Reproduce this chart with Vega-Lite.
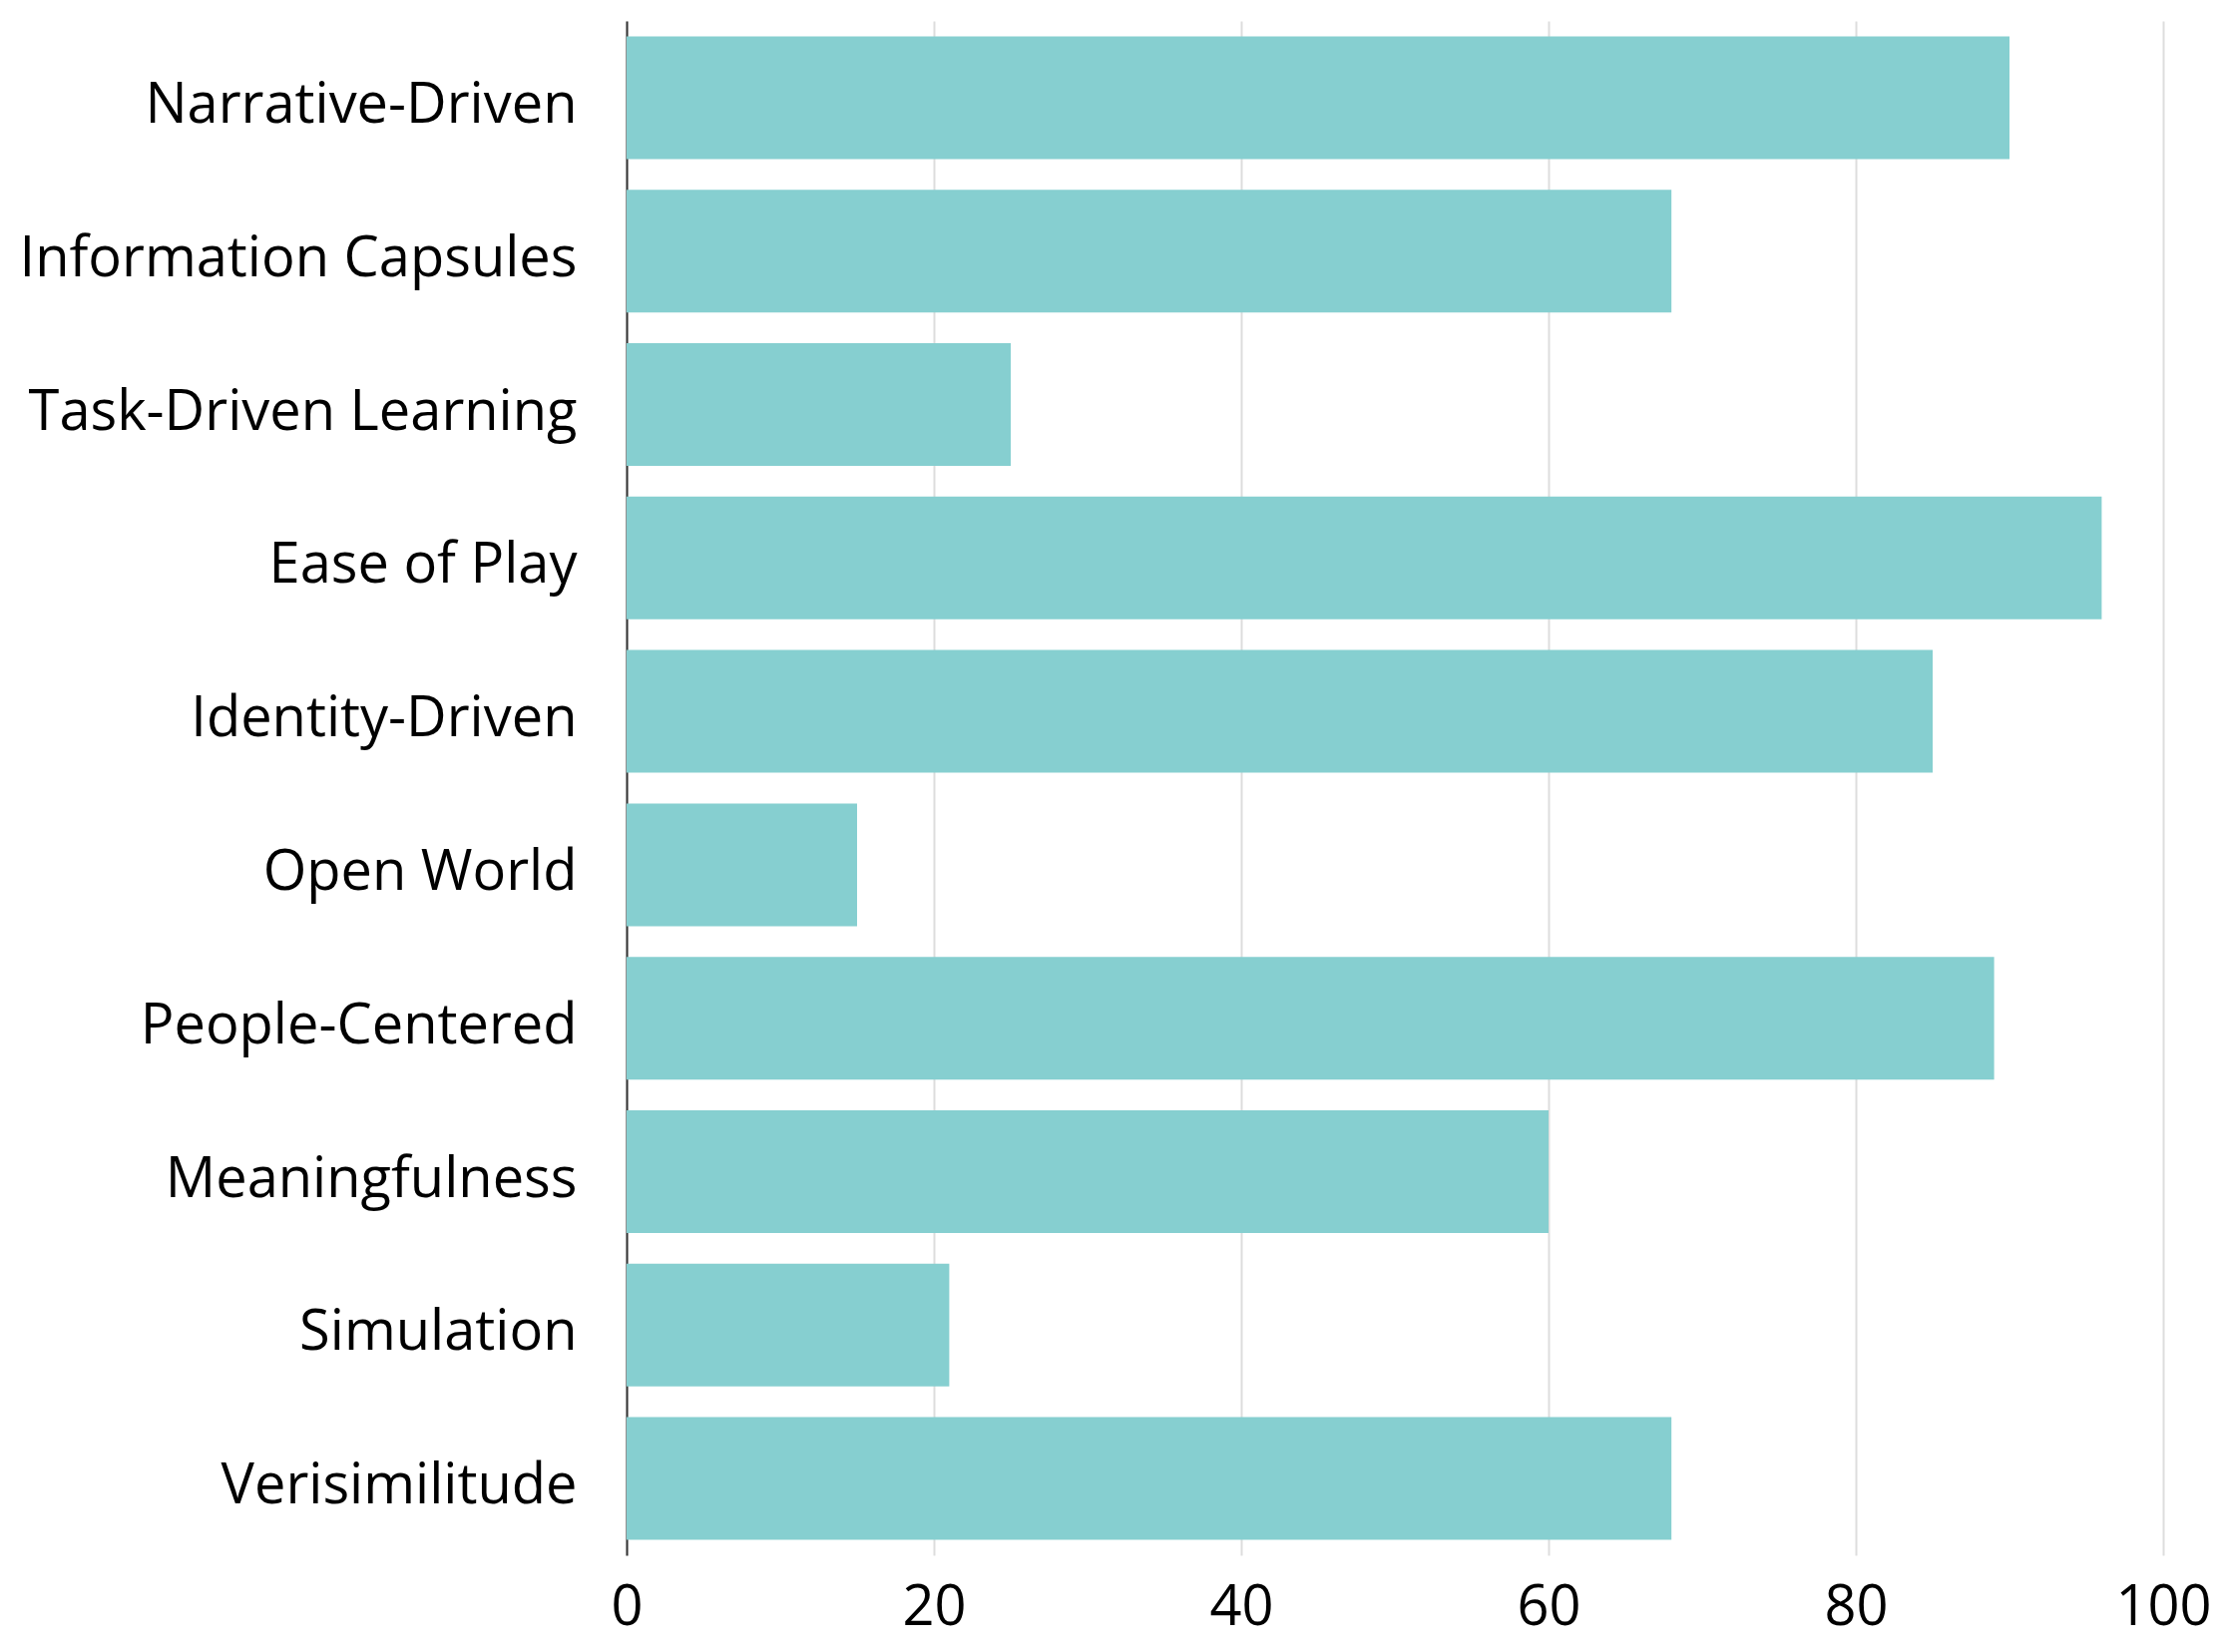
{
  "$schema": "https://vega.github.io/schema/vega-lite/v6.json",
  "autosize": "none",
  "width": 1540,
  "height": 1538,
  "padding": {"left": 628, "top": 21, "right": 64, "bottom": 97},
  "background": "white",
  "data": {
    "values": [
      {"category": "Narrative-Driven", "value": 90},
      {"category": "Information Capsules", "value": 68},
      {"category": "Task-Driven Learning", "value": 25},
      {"category": "Ease of Play", "value": 96},
      {"category": "Identity-Driven", "value": 85},
      {"category": "Open World", "value": 15},
      {"category": "People-Centered", "value": 89},
      {"category": "Meaningfulness", "value": 60},
      {"category": "Simulation", "value": 21},
      {"category": "Verisimilitude", "value": 68}
    ]
  },
  "mark": {"type": "bar", "color": "#86CFD0"},
  "encoding": {
    "y": {
      "field": "category",
      "type": "nominal",
      "sort": null,
      "scale": {"paddingInner": 0.2, "paddingOuter": 0.1},
      "axis": {
        "title": null,
        "ticks": false,
        "labelPadding": 50,
        "labelLimit": 0,
        "labelBaseline": "middle",
        "labelOffset": 8,
        "labelFont": "Open Sans",
        "labelFontSize": 56,
        "labelColor": "#000000",
        "domainColor": "#333333",
        "domainWidth": 2,
        "grid": false
      }
    },
    "x": {
      "field": "value",
      "type": "quantitative",
      "scale": {"domain": [0, 100], "nice": false},
      "axis": {
        "title": null,
        "values": [0, 20, 40, 60, 80, 100],
        "ticks": false,
        "domain": false,
        "labelPadding": 25,
        "labelFont": "Open Sans",
        "labelFontSize": 56,
        "labelColor": "#000000",
        "labelFlush": false,
        "grid": true,
        "gridColor": "#dddddd",
        "gridWidth": 2
      }
    }
  },
  "config": {"view": {"stroke": null}}
}
